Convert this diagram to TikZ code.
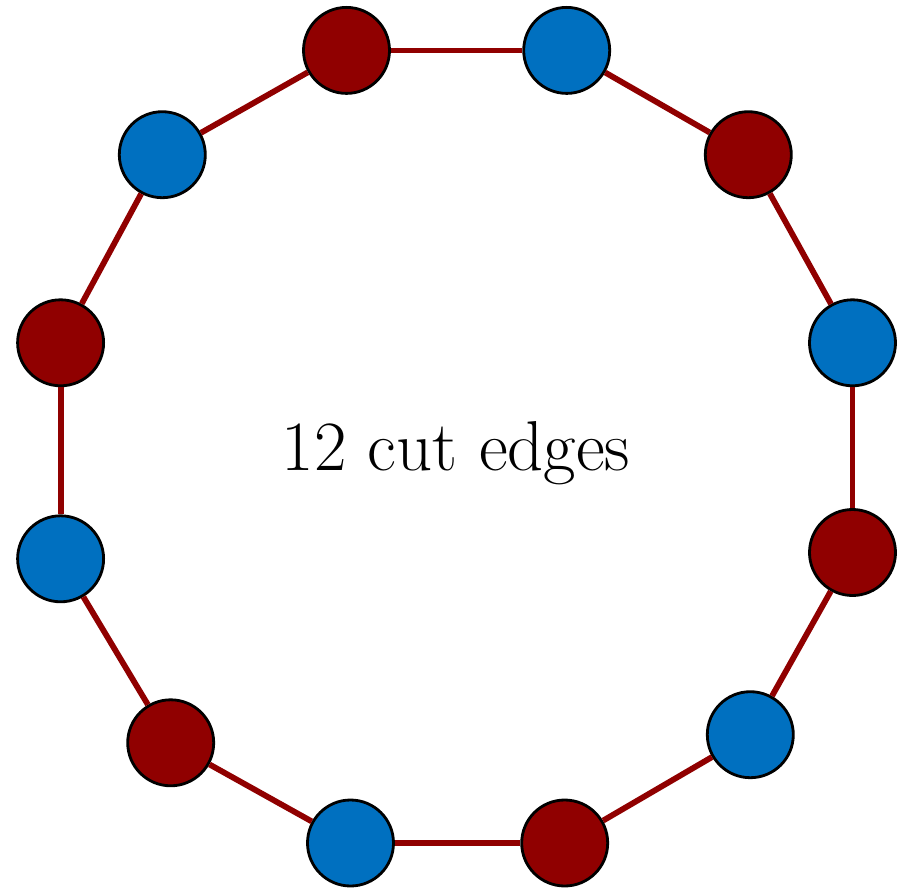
\documentclass[tikz,border=0pt]{standalone}
\definecolor{nodered}{RGB}{144,0,0}
\definecolor{nodeblue}{RGB}{0,112,192}
\begin{document}
\begin{tikzpicture}[
  vtx/.style={circle,draw=black,line width=0.8pt,inner sep=0pt,minimum size=0.86cm},
  rv/.style={vtx,fill=nodered},
  bv/.style={vtx,fill=nodeblue},
  cutedge/.style={draw=nodered,line width=1.65pt}
]
\useasboundingbox (0,0) rectangle (9.06,8.88);
\node[rv] (n1) at (3.465,8.376) {};
\node[bv] (n2) at (5.667,8.376) {};
\node[rv] (n3) at (7.483,7.333) {};
\node[bv] (n4) at (8.525,5.452) {};
\node[rv] (n5) at (8.525,3.355) {};
\node[bv] (n6) at (7.503,1.533) {};
\node[rv] (n7) at (5.647,0.45) {};
\node[bv] (n8) at (3.505,0.45) {};
\node[rv] (n9) at (1.707,1.452) {};
\node[bv] (n10) at (0.606,3.292) {};
\node[rv] (n11) at (0.606,5.452) {};
\node[bv] (n12) at (1.623,7.333) {};
\foreach \a/\b in {n1/n2,n2/n3,n3/n4,n4/n5,n5/n6,n6/n7,n7/n8,n8/n9,n9/n10,n10/n11,n11/n12,n12/n1}
  \draw[cutedge] (\a) -- (\b);
\node[anchor=base,inner sep=0pt,font=\fontsize{20.1}{24}\selectfont] (lbl) at (4.56,4.18) {12 cut edges};
\end{tikzpicture}
\end{document}
